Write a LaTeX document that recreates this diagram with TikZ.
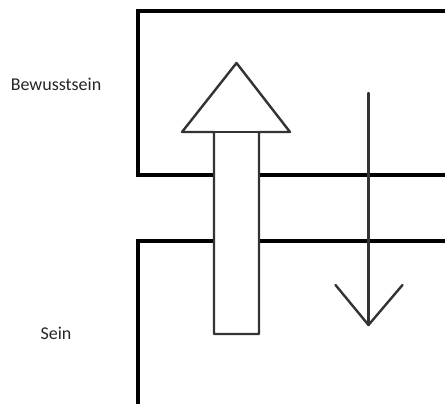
\documentclass[tikz,border=0pt]{standalone}
\usepackage{fontspec}
\setmainfont{Carlito}
\begin{document}
\begin{tikzpicture}[x=1pt,y=-1pt,
  frame/.style={draw=black,line width=4pt,line cap=butt,line join=miter},
  outline/.style={draw=black!80,line width=2.4pt,line join=round},
  label/.style={font=\fontsize{18}{20}\selectfont,text=black!85,inner sep=0pt}]
  \useasboundingbox[fill=white] (0,0) rectangle (445,404);
  % upper and lower regions, open to the right / bottom
  \draw[frame] (445,11.5) -- (137.5,11.5) -- (137.5,174.5) -- (445,174.5);
  \draw[frame] (445,241) -- (137.5,241) -- (137.5,404);
  % broad arrow pointing up
  \draw[outline,fill=white] (214,334) -- (214,132) -- (182,132) -- (236.5,63)
     -- (290,132) -- (259,132) -- (259,334) -- cycle;
  \draw[outline,fill=white] (214,132) -- (259,132);
  % thin arrow pointing down
  \coordinate (dtop) at (368.5,93);
  \coordinate (dtip) at (368.5,325);
  \draw[outline,line cap=round] (dtop) -- (dtip);
  \draw[outline,line cap=round] (335.5,285) -- (dtip) -- (402.5,285);
  % labels
  \node[label] (bw) at (56,84) {Bewusstsein};
  \node[label] (sn) at (56,333) {Sein};
\end{tikzpicture}
\end{document}
